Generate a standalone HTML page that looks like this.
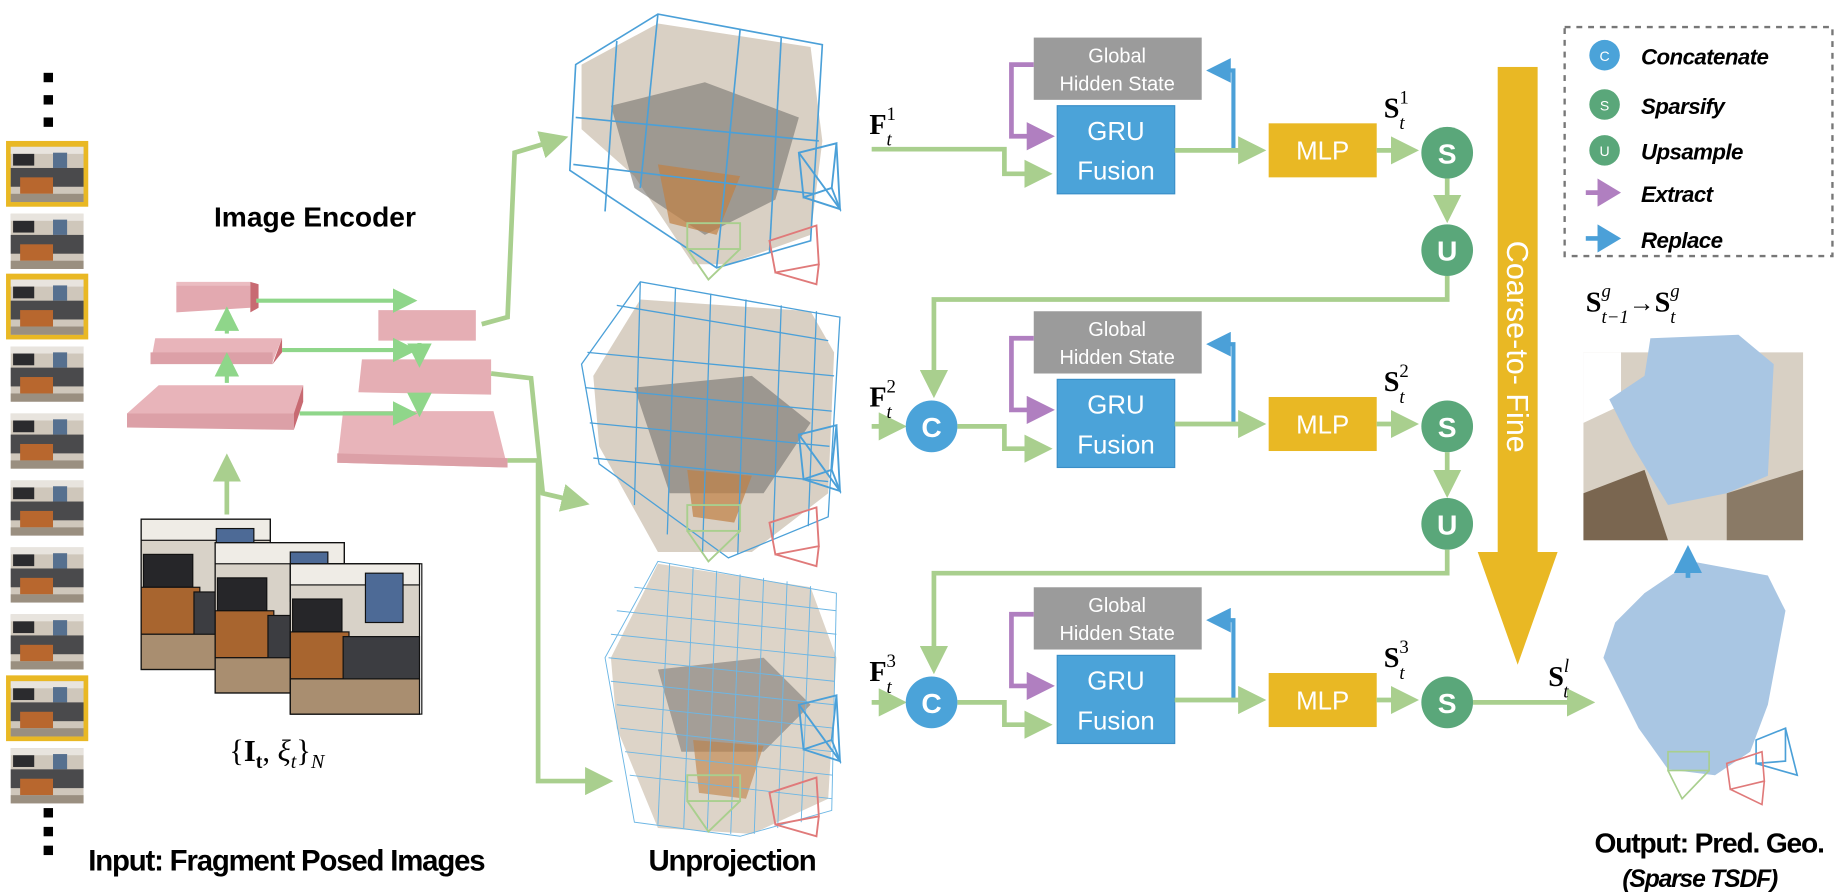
<!DOCTYPE html>
<html><head><meta charset="utf-8"><style>
html,body{margin:0;padding:0;background:#fff;}
svg{display:block;}
text{font-family:"Liberation Sans",sans-serif;}
.ser{font-family:"Liberation Serif",serif;}
</style></head><body>
<svg width="1842" height="895" viewBox="0 0 1568 762" xmlns="http://www.w3.org/2000/svg">
<defs>
<marker id="ag" markerWidth="6" markerHeight="6" refX="4.5" refY="3" orient="auto" markerUnits="strokeWidth"><path d="M0,0 L6,3 L0,6 z" fill="#a9cf8e"/></marker>
<marker id="ag2" markerWidth="6" markerHeight="6" refX="4.5" refY="3" orient="auto" markerUnits="strokeWidth"><path d="M0,0 L6,3 L0,6 z" fill="#8fd68a"/></marker>
<marker id="ap" markerWidth="6" markerHeight="6" refX="4.5" refY="3" orient="auto" markerUnits="strokeWidth"><path d="M0,0 L6,3 L0,6 z" fill="#b07fc0"/></marker>
<marker id="ab" markerWidth="6" markerHeight="6" refX="4.5" refY="3" orient="auto" markerUnits="strokeWidth"><path d="M0,0 L6,3 L0,6 z" fill="#4ba0d8"/></marker>
<marker id="apL" markerWidth="5" markerHeight="6" refX="3" refY="3" orient="auto" markerUnits="strokeWidth"><path d="M0,0 L5,3 L0,6 z" fill="#b07fc0"/></marker>
<marker id="abL" markerWidth="5" markerHeight="6" refX="3" refY="3" orient="auto" markerUnits="strokeWidth"><path d="M0,0 L5,3 L0,6 z" fill="#4ba0d8"/></marker>
<g id="th">
<rect x="0" y="0" width="62" height="47" fill="#cfc7bb"/>
<rect x="0" y="0" width="62" height="6" fill="#e8e4de"/>
<rect x="2" y="6" width="18" height="10" fill="#2b2b2e"/>
<rect x="36" y="5" width="12" height="13" fill="#56708f"/>
<rect x="0" y="18" width="62" height="16" fill="#4a4a4c"/>
<rect x="8" y="26" width="28" height="14" fill="#b8672e"/>
<rect x="0" y="40" width="62" height="7" fill="#9a8f80"/>
</g>
<g id="ph">
<rect x="0" y="0" width="110" height="128" fill="#d8d2c8"/>
<rect x="0" y="0" width="110" height="18" fill="#efece6"/>
<rect x="2" y="30" width="42" height="28" fill="#262629"/>
<rect x="64" y="8" width="32" height="42" fill="#4d6a96"/>
<rect x="0" y="58" width="50" height="40" fill="#a8652f"/>
<rect x="45" y="62" width="65" height="45" fill="#3c3d41"/>
<rect x="0" y="98" width="110" height="30" fill="#a98e70"/>
</g>
</defs>

<rect x="37" y="62" width="8" height="8" fill="#000"/>
<rect x="37" y="81" width="8" height="8" fill="#000"/>
<rect x="37" y="100" width="8" height="8" fill="#000"/>
<rect x="37" y="688" width="8" height="8" fill="#000"/>
<rect x="37" y="704" width="8" height="8" fill="#000"/>
<rect x="37" y="720" width="8" height="8" fill="#000"/>

<rect x="5" y="120" width="70" height="56" fill="#e9b824"/>
<rect x="5" y="233" width="70" height="56" fill="#e9b824"/>
<rect x="5" y="575" width="70" height="56" fill="#e9b824"/>
<use href="#th" x="9" y="125"/>
<use href="#th" x="9" y="182"/>
<use href="#th" x="9" y="238"/>
<use href="#th" x="9" y="295"/>
<use href="#th" x="9" y="352"/>
<use href="#th" x="9" y="409"/>
<use href="#th" x="9" y="466"/>
<use href="#th" x="9" y="523"/>
<use href="#th" x="9" y="580"/>
<use href="#th" x="9" y="637"/>

<text x="268" y="193" font-size="24" font-weight="bold" text-anchor="middle">Image Encoder</text>
<g stroke="none">
<polygon points="150,243 213,243 213,262 150,266" fill="#e3a9b0"/>
<polygon points="150,243 213,243 213,240 150,240" fill="#ebbcc1"/>
<polygon points="213,240 220,242 220,262 213,266" fill="#c86a72"/>
<polygon points="132,288 240,288 232,308 128,310" fill="#e8b4ba"/>
<polygon points="128,300 232,300 232,310 128,310" fill="#dca0a7"/>
<polygon points="240,288 240,300 232,310" fill="#c86a72"/>
<polygon points="135,328 258,328 250,352 108,352" fill="#e8b4ba"/>
<polygon points="108,352 250,352 250,366 108,364" fill="#dca0a7"/>
<polygon points="258,328 258,342 250,366 250,352" fill="#c86a72"/>
<polygon points="322,264 405,264 405,290 322,290" fill="#e5aeb4"/>
<polygon points="308,306 418,306 418,336 305,334" fill="#e5aeb4"/>
<polygon points="292,350 420,350 432,398 287,394" fill="#e8b4ba"/>
<polygon points="287,386 432,390 432,398 287,394" fill="#dca0a7"/>
</g>
<g stroke="#8fd68a" stroke-width="3.5" fill="none" marker-end="url(#ag2)">
<line x1="193" y1="326" x2="193" y2="305"/>
<line x1="193" y1="284" x2="193" y2="266"/>
<line x1="218" y1="256" x2="350" y2="256"/>
<line x1="240" y1="298" x2="350" y2="298"/>
<line x1="255" y1="352" x2="350" y2="352"/>
<line x1="357" y1="292" x2="357" y2="308"/>
<line x1="357" y1="336" x2="357" y2="350"/>
</g>
<line x1="193" y1="438" x2="193" y2="392" stroke="#a9cf8e" stroke-width="4" marker-end="url(#ag)"/>

<g stroke="#111" stroke-width="1">
<use href="#ph" x="120" y="442"/>
<rect x="120" y="442" width="110" height="128" fill="none"/>
<use href="#ph" x="183" y="462"/>
<rect x="183" y="462" width="110" height="128" fill="none"/>
<use href="#ph" x="247" y="480"/>
<rect x="247" y="480" width="112" height="128" fill="none"/>
</g>
<text x="195" y="648" font-size="26" class="ser">{<tspan font-weight="bold">I</tspan><tspan font-size="17" dy="6" font-weight="bold">t</tspan><tspan dy="-6">, </tspan><tspan font-style="italic">ξ</tspan><tspan font-size="17" dy="6" font-style="italic">t</tspan><tspan dy="-6">}</tspan><tspan font-size="17" dy="6" font-style="italic">N</tspan></text>
<text x="75" y="741" font-size="25" font-weight="bold" letter-spacing="-1">Input: Fragment Posed Images</text>
<text x="552" y="741" font-size="25" font-weight="bold" letter-spacing="-1">Unprojection</text>

<g stroke="#a9cf8e" stroke-width="4" fill="none" marker-end="url(#ag)">
<polyline points="410,276 432,270 438,130 478,118"/>
<polyline points="418,318 452,322 462,420 496,428"/>
<polyline points="432,392 458,392 458,665 516,665"/>
</g>

<g>
<polygon points="495,55 560,20 690,40 700,120 690,200 620,225 590,225 540,150 495,110" fill="#d9d0c4"/>
<polygon points="520,90 600,70 680,100 660,170 600,200 540,160" fill="#6e6b68" opacity="0.55"/>
<polygon points="560,140 630,150 610,200 570,190" fill="#c08045" opacity="0.7"/>
<g stroke="#4ba0d8" stroke-width="1.4" fill="none">
<polygon points="490,55 560,12 700,38 690,205 610,228 485,145"/>
<line x1="560" y1="12" x2="545" y2="160"/><line x1="630" y1="25" x2="610" y2="228"/>
<line x1="490" y1="100" x2="697" y2="120"/><line x1="488" y1="140" x2="693" y2="165"/>
<line x1="525" y1="35" x2="515" y2="180"/><line x1="665" y1="32" x2="655" y2="215"/>
</g>
</g>
<g>
<polygon points="505,320 545,255 690,265 710,300 705,420 640,470 560,470 510,380" fill="#d9d0c4"/>
<polygon points="540,330 640,320 690,360 650,420 570,420" fill="#5f5d5b" opacity="0.5"/>
<polygon points="585,400 640,405 625,445 590,440" fill="#c08045" opacity="0.7"/>
<g stroke="#4ba0d8" stroke-width="1.1" fill="none">
<polygon points="495,310 545,240 715,270 705,440 620,475 510,395"/>
<line x1="525" y1="260" x2="705" y2="290"/><line x1="500" y1="300" x2="710" y2="320"/>
<line x1="498" y1="330" x2="708" y2="350"/><line x1="502" y1="360" x2="706" y2="380"/>
<line x1="505" y1="390" x2="705" y2="410"/><line x1="545" y1="240" x2="540" y2="430"/>
<line x1="575" y1="245" x2="568" y2="455"/><line x1="605" y1="250" x2="598" y2="470"/>
<line x1="635" y1="255" x2="628" y2="472"/><line x1="665" y1="260" x2="658" y2="460"/>
<line x1="695" y1="265" x2="688" y2="448"/>
</g>
</g>
<g>
<polygon points="520,560 560,480 690,500 712,560 705,680 640,710 560,705 525,620" fill="#ddd4c8"/>
<polygon points="560,570 650,560 690,600 650,640 580,640" fill="#5f5d5b" opacity="0.45"/>
<polygon points="590,630 650,635 635,680 595,675" fill="#c08045" opacity="0.6"/>
<g stroke="#6cb6e4" stroke-width="0.8" fill="none">
<polygon points="515,560 560,478 712,505 708,690 630,712 540,700"/>
<line x1="540" y1="500" x2="712" y2="520"/><line x1="525" y1="520" x2="712" y2="540"/>
<line x1="520" y1="540" x2="711" y2="560"/><line x1="518" y1="560" x2="710" y2="580"/>
<line x1="520" y1="580" x2="710" y2="600"/><line x1="525" y1="600" x2="710" y2="620"/>
<line x1="528" y1="620" x2="709" y2="640"/><line x1="532" y1="640" x2="709" y2="660"/>
<line x1="536" y1="660" x2="708" y2="680"/>
<line x1="570" y1="480" x2="560" y2="702"/><line x1="590" y1="483" x2="582" y2="705"/>
<line x1="610" y1="486" x2="602" y2="708"/><line x1="630" y1="489" x2="622" y2="710"/>
<line x1="650" y1="492" x2="642" y2="710"/><line x1="670" y1="495" x2="662" y2="705"/>
<line x1="690" y1="499" x2="682" y2="700"/>
</g>
</g>
<g fill="none" stroke-width="1.6">
<g stroke="#4ba0d8"><polygon points="680,130 712,122 708,160 684,168"/><polyline points="680,130 715,178 712,122"/><polyline points="684,168 715,178 708,160"/></g>
<g stroke="#4ba0d8" transform="translate(0,240)"><polygon points="680,130 712,122 708,160 684,168"/><polyline points="680,130 715,178 712,122"/><polyline points="684,168 715,178 708,160"/></g>
<g stroke="#4ba0d8" transform="translate(0,470)"><polygon points="680,130 712,122 708,160 684,168"/><polyline points="680,130 715,178 712,122"/><polyline points="684,168 715,178 708,160"/></g>
<g stroke="#a9cf8e"><rect x="585" y="190" width="45" height="22"/><polyline points="585,212 603,238 630,212"/></g>
<g stroke="#a9cf8e" transform="translate(0,240)"><rect x="585" y="190" width="45" height="22"/><polyline points="585,212 603,238 630,212"/></g>
<g stroke="#a9cf8e" transform="translate(0,470)"><rect x="585" y="190" width="45" height="22"/><polyline points="585,212 603,238 630,212"/></g>
<g stroke="#e07a7a"><polygon points="655,205 695,192 697,225 660,232"/><polyline points="660,232 695,242 697,225"/></g>
<g stroke="#e07a7a" transform="translate(0,240)"><polygon points="655,205 695,192 697,225 660,232"/><polyline points="660,232 695,242 697,225"/></g>
<g stroke="#e07a7a" transform="translate(0,470)"><polygon points="655,205 695,192 697,225 660,232"/><polyline points="660,232 695,242 697,225"/></g>
</g>

<g id="row1">
<rect x="880" y="32" width="143" height="53" fill="#9b9b9b"/>
<text x="951" y="53" font-size="17" fill="#fff" text-anchor="middle">Global</text>
<text x="951" y="77" font-size="17" fill="#fff" text-anchor="middle">Hidden State</text>
<rect x="900" y="90" width="100" height="75" fill="#4ba3d9" stroke="#3a8fc8"/>
<text x="950" y="119" font-size="22" fill="#fff" text-anchor="middle">GRU</text>
<text x="950" y="153" font-size="22" fill="#fff" text-anchor="middle">Fusion</text>
<polyline points="880,55 861,55 861,116 892,116" fill="none" stroke="#b07fc0" stroke-width="4" marker-end="url(#ap)"/>
<polyline points="1000,128 1050,128 1050,60 1032,60" fill="none" stroke="#4ba0d8" stroke-width="3.5" marker-end="url(#ab)"/>
<line x1="1000" y1="128" x2="1072" y2="128" stroke="#a9cf8e" stroke-width="4" marker-end="url(#ag)"/>
<rect x="1080" y="105" width="92" height="46" fill="#e9b824"/>
<text x="1126" y="136" font-size="22" fill="#fff" text-anchor="middle">MLP</text>
<line x1="1172" y1="128" x2="1202" y2="128" stroke="#a9cf8e" stroke-width="4" marker-end="url(#ag)"/>
<circle cx="1232" cy="130" r="22" fill="#5aa77a"/>
<text x="1232" y="139" font-size="24" font-weight="bold" fill="#fff" text-anchor="middle">S</text>
</g>
<use href="#row1" y="233"/>
<use href="#row1" y="468"/>

<polyline points="742,127 855,127 855,148 890,148" fill="none" stroke="#a9cf8e" stroke-width="4" marker-end="url(#ag)"/>
<line x1="742" y1="363" x2="766" y2="363" stroke="#a9cf8e" stroke-width="4" marker-end="url(#ag)"/>
<polyline points="815,363 855,363 855,382 890,382" fill="none" stroke="#a9cf8e" stroke-width="4" marker-end="url(#ag)"/>
<circle cx="793" cy="363" r="22" fill="#4ba3d9"/>
<text x="793" y="372" font-size="24" font-weight="bold" fill="#fff" text-anchor="middle">C</text>
<line x1="742" y1="598" x2="766" y2="598" stroke="#a9cf8e" stroke-width="4" marker-end="url(#ag)"/>
<polyline points="815,598 855,598 855,617 890,617" fill="none" stroke="#a9cf8e" stroke-width="4" marker-end="url(#ag)"/>
<circle cx="793" cy="598" r="22" fill="#4ba3d9"/>
<text x="793" y="607" font-size="24" font-weight="bold" fill="#fff" text-anchor="middle">C</text>

<line x1="1232" y1="152" x2="1232" y2="184" stroke="#a9cf8e" stroke-width="4" marker-end="url(#ag)"/>
<circle cx="1232" cy="213" r="22" fill="#5aa77a"/>
<text x="1232" y="222" font-size="24" font-weight="bold" fill="#fff" text-anchor="middle">U</text>
<polyline points="1232,235 1232,255 795,255 795,333" fill="none" stroke="#a9cf8e" stroke-width="4" marker-end="url(#ag)"/>
<line x1="1232" y1="385" x2="1232" y2="418" stroke="#a9cf8e" stroke-width="4" marker-end="url(#ag)"/>
<circle cx="1232" cy="446" r="22" fill="#5aa77a"/>
<text x="1232" y="455" font-size="24" font-weight="bold" fill="#fff" text-anchor="middle">U</text>
<polyline points="1232,468 1232,488 795,488 795,568" fill="none" stroke="#a9cf8e" stroke-width="4" marker-end="url(#ag)"/>
<line x1="1254" y1="598" x2="1352" y2="598" stroke="#a9cf8e" stroke-width="4" marker-end="url(#ag)"/>

<g class="ser" font-size="24">
<text x="740" y="114" font-weight="bold" class="ser">F<tspan font-size="16" font-weight="normal" dy="-12">1</tspan><tspan font-size="16" font-style="italic" font-weight="normal" dx="-8" dy="22">t</tspan></text>
<text x="740" y="346" font-weight="bold" class="ser">F<tspan font-size="16" font-weight="normal" dy="-12">2</tspan><tspan font-size="16" font-style="italic" font-weight="normal" dx="-8" dy="22">t</tspan></text>
<text x="740" y="580" font-weight="bold" class="ser">F<tspan font-size="16" font-weight="normal" dy="-12">3</tspan><tspan font-size="16" font-style="italic" font-weight="normal" dx="-8" dy="22">t</tspan></text>
<text x="1178" y="100" font-weight="bold" class="ser">S<tspan font-size="16" font-weight="normal" dy="-12">1</tspan><tspan font-size="16" font-style="italic" font-weight="normal" dx="-8" dy="22">t</tspan></text>
<text x="1178" y="333" font-weight="bold" class="ser">S<tspan font-size="16" font-weight="normal" dy="-12">2</tspan><tspan font-size="16" font-style="italic" font-weight="normal" dx="-8" dy="22">t</tspan></text>
<text x="1178" y="568" font-weight="bold" class="ser">S<tspan font-size="16" font-weight="normal" dy="-12">3</tspan><tspan font-size="16" font-style="italic" font-weight="normal" dx="-8" dy="22">t</tspan></text>
<text x="1318" y="584" font-weight="bold" class="ser">S<tspan font-size="16" font-style="italic" font-weight="normal" dy="-12">l</tspan><tspan font-size="16" font-style="italic" font-weight="normal" dx="-5" dy="22">t</tspan></text>
<text x="1350" y="265" font-weight="bold" class="ser">S<tspan font-size="16" font-style="italic" font-weight="normal" dy="-12">g</tspan><tspan font-size="16" font-style="italic" font-weight="normal" dx="-8" dy="22">t−1</tspan><tspan font-size="22" font-weight="normal" dy="-10">→</tspan><tspan dy="0">S</tspan><tspan font-size="16" font-style="italic" font-weight="normal" dy="-12">g</tspan><tspan font-size="16" font-style="italic" font-weight="normal" dx="-8" dy="22">t</tspan></text>
</g>

<rect x="1275" y="57" width="34" height="415" fill="#e9b824"/>
<polygon points="1258,470 1326,470 1292,566" fill="#e9b824"/>
<text transform="translate(1283,205) rotate(90)" font-size="26" fill="#fff">Coarse-to- Fine</text>

<rect x="1332" y="23" width="228" height="195" fill="none" stroke="#777" stroke-width="2" stroke-dasharray="5,5"/>
<circle cx="1366" cy="47" r="13" fill="#4ba3d9"/><text x="1366" y="52" font-size="12" fill="#fff" text-anchor="middle">C</text>
<circle cx="1366" cy="89" r="13" fill="#5aa77a"/><text x="1366" y="94" font-size="12" fill="#fff" text-anchor="middle">S</text>
<circle cx="1366" cy="128" r="13" fill="#5aa77a"/><text x="1366" y="133" font-size="12" fill="#fff" text-anchor="middle">U</text>
<line x1="1350" y1="164" x2="1372" y2="164" stroke="#b07fc0" stroke-width="4" marker-end="url(#apL)"/>
<line x1="1350" y1="203" x2="1372" y2="203" stroke="#4ba0d8" stroke-width="4" marker-end="url(#abL)"/>
<g font-size="19" font-weight="bold" font-style="italic" letter-spacing="-0.5">
<text x="1397" y="55">Concatenate</text>
<text x="1397" y="97">Sparsify</text>
<text x="1397" y="136">Upsample</text>
<text x="1397" y="172">Extract</text>
<text x="1397" y="211">Replace</text>
</g>

<rect x="1348" y="300" width="187" height="160" fill="#d8d0c4"/>
<polygon points="1348,300 1380,300 1380,345 1348,360" fill="#fff"/>
<polygon points="1348,420 1400,400 1420,460 1348,460" fill="#7a6650"/>
<polygon points="1470,420 1535,400 1535,460 1470,460" fill="#8a7a66"/>
<polygon points="1405,288 1480,285 1510,310 1505,405 1470,420 1420,430 1390,380 1370,340 1400,320" fill="#a9c6e3"/>
<polygon points="1400,505 1440,478 1505,490 1520,520 1505,600 1490,640 1460,660 1420,655 1395,620 1365,560 1375,530" fill="#a9c6e3"/>
<line x1="1437" y1="492" x2="1437" y2="470" stroke="#4ba0d8" stroke-width="4" marker-end="url(#ab)"/>
<g fill="none" stroke-width="1.4">
<g stroke="#4ba0d8"><polygon points="1495,630 1520,620 1520,648 1495,650"/><polyline points="1495,650 1530,660 1520,620"/></g>
<g stroke="#a9cf8e"><rect x="1420" y="640" width="35" height="16"/><polyline points="1420,656 1432,680 1455,656"/></g>
<g stroke="#e07a7a"><polygon points="1470,650 1500,640 1502,665 1473,672"/><polyline points="1473,672 1500,685 1502,665"/></g>
</g>
<text x="1455" y="726" font-size="24" font-weight="bold" text-anchor="middle" letter-spacing="-1">Output: Pred. Geo.</text>
<text x="1447" y="755" font-size="21" font-weight="bold" font-style="italic" text-anchor="middle" letter-spacing="-1">(Sparse TSDF)</text>
</svg>
</body></html>
